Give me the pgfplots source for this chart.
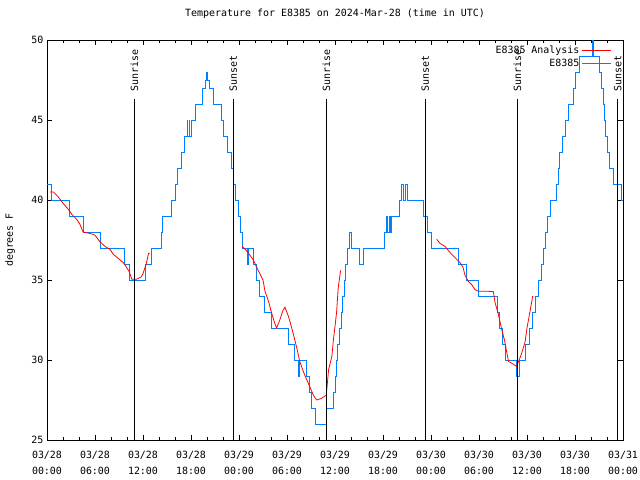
\documentclass[border=0pt]{standalone}
\usepackage{pgfplots}
\pgfplotsset{compat=1.18}
\usepackage{fontspec}
\setmainfont{DejaVu Sans Mono}
\definecolor{obsblue}{RGB}{0,128,255}

\begin{document}
\begin{tikzpicture}[font=\fontsize{10}{12}\selectfont]
\useasboundingbox (0,0) rectangle (640bp,480bp);
\begin{axis}[
    at={(47bp,40bp)}, anchor=south west,
    scale only axis, width=576bp, height=400bp,
    xmin=0, xmax=72, ymin=25, ymax=50,
    xtick={0,6,...,72},
    xticklabels={{03/28\\00:00},{03/28\\06:00},{03/28\\12:00},{03/28\\18:00},
                 {03/29\\00:00},{03/29\\06:00},{03/29\\12:00},{03/29\\18:00},
                 {03/30\\00:00},{03/30\\06:00},{03/30\\12:00},{03/30\\18:00},
                 {03/31\\00:00}},
    xticklabel style={align=center, font=\fontsize{10}{16}\selectfont, yshift=-8bp},
    minor x tick num=2,
    ytick={25,30,...,50},
    major tick length=5bp, minor tick length=3bp,
    tick style={black, line width=0.8bp},
    axis line style={line width=0.8bp},
    /pgf/number format/assume math mode=true,
    ylabel={degrees F},
    ylabel style={at={(axis description cs:-0.064,0.5)}, anchor=center},
    title={Temperature for E8385 on 2024-Mar-28 (time in UTC)},
    title style={at={(axis description cs:0.5,1)}, anchor=center, yshift=20bp},
    legend style={draw=none, fill=none, at={(axis description cs:0.98,0.992)},
        anchor=north east, inner sep=0pt, row sep=0.5bp,
        font=\fontsize{10}{11}\selectfont},
    legend cell align=right,
    legend plot pos=right,
    legend image code/.code={\draw[#1] (6bp,0bp) -- (35bp,0bp);},
    reverse legend,
    unbounded coords=jump,
    clip=false,
]

% observations (step data)
\addplot[color=obsblue, line width=0.8bp, const plot] coordinates {
(0,41) (0.6,40) (2.8,39) (4.5,38) (6.7,37) (9.7,36) (10.3,35) (12.3,36)
(13.0,37) (14.25,38) (14.45,39) (15.5,40) (16.0,41) (16.25,42) (16.8,43)
(17.2,44) (17.5,45) (17.6,44) (17.75,45) (17.85,44) (18.0,45) (18.5,46)
(19.45,47) (19.75,47.5) (19.95,48) (20.05,47.5) (20.25,47) (20.75,46) (21.8,45) (22.1,44) (22.6,43)
(23.1,42) (23.35,41) (23.6,40) (23.9,39) (24.15,38) (24.4,37) (25.0,36)
(25.2,37) (25.8,36) (26.2,35) (26.6,34) (27.2,33) (28.0,32) (30.2,31)
(30.9,30) (31.45,29) (31.6,30) (32.4,29) (32.8,28) (33.1,27) (33.6,26)
(34.95,27) (35.8,28) (36.0,29) (36.15,30) (36.35,31) (36.55,32) (36.75,33)
(36.95,34) (37.15,35) (37.35,36) (37.55,37) (37.75,38) (38.1,37) (39.05,36)
(39.6,37) (42.2,38) (42.45,39) (42.6,38) (42.75,39) (42.9,38) (43.0,39)
(44.05,40) (44.25,41) (44.5,40) (44.75,41) (45.0,40)
(47.1,39) (47.55,38) (48.1,37) (51.4,36) (52.4,35) (53.95,34) (56.3,33)
(56.55,32) (56.9,31) (57.35,30) (58.7,29) (59.05,30) (59.85,31) (60.25,32)
(60.65,33) (61.0,34) (61.4,35) (61.8,36) (62.05,37) (62.35,38) (62.6,39)
(62.9,40) (63.7,41) (63.9,42) (64.1,43) (64.4,44) (64.8,45) (65.2,46)
(65.8,47) (66.1,48) (66.6,49) (68.15,50) (68.35,49) (69.1,48) (69.3,47)
(69.5,46) (69.65,45) (69.85,44) (70.05,43) (70.3,42) (70.8,41) (71.75,40)
(72,40)
};
\addlegendentry{E8385}

% analysis
\addplot[color=red, line width=0.8bp] coordinates {
(0.4,40.5) (0.8,40.5) (1.4,40.2) (2.0,39.8) (2.7,39.4) (3.1,39.1) (3.7,38.8)
(4.1,38.5) (4.5,38.0) (5.0,37.95) (5.8,37.85) (6.0,37.8) (6.6,37.4) (7.25,37.1)
(7.9,36.9) (8.3,36.6) (8.9,36.35) (9.5,36.1) (9.8,35.9) (10.3,35.5) (10.6,35.05)
(11.2,35.05) (11.8,35.2) (12.0,35.4) (12.4,36.0) (12.7,36.67) (12.85,36.67)
(18,nan)
(24.4,37.1) (25.0,36.8) (25.8,36.25) (26.2,35.8) (26.6,35.4) (27.0,35.0)
(27.25,34.3) (27.7,33.65) (28.1,32.9) (28.4,32.4) (28.7,32.0) (29.1,32.5)
(29.5,33.1) (29.75,33.3) (30.2,32.7) (30.7,31.8) (31.2,30.8) (31.6,29.9)
(32.1,29.2) (32.7,28.5) (33.3,27.8) (33.7,27.5) (34.3,27.6) (34.9,27.8)
(35.0,28.3) (35.2,29.4) (35.6,30.2) (35.8,31.25) (36.0,32.1) (36.2,33.0)
(36.4,34.5) (36.7,35.6)
(42,nan)
(48.7,37.55) (49.1,37.3) (49.75,37.1) (50.4,36.7) (50.8,36.5) (51.2,36.3)
(51.6,36.1) (52.0,35.8) (52.25,35.3) (52.7,34.9) (53.1,34.7) (53.5,34.4)
(53.9,34.3) (55.0,34.3) (55.8,34.27) (56.0,33.6) (56.4,32.9) (56.8,32.0)
(57.2,31.2) (57.5,30.4) (57.7,29.9) (58.1,29.8) (58.7,29.6) (58.85,29.8)
(59.25,30.3) (59.75,31.1) (60.0,32.0) (60.4,33.1) (60.7,33.96) (60.8,33.96)
};
\addlegendentry{E8385 Analysis}

% sunrise / sunset markers
\addplot[black, line width=0.8bp, forget plot] coordinates {(10.92,25) (10.92,46.31)};
\addplot[black, line width=0.8bp, forget plot] coordinates {(23.29,25) (23.29,46.31)};
\addplot[black, line width=0.8bp, forget plot] coordinates {(34.92,25) (34.92,46.31)};
\addplot[black, line width=0.8bp, forget plot] coordinates {(47.29,25) (47.29,46.31)};
\addplot[black, line width=0.8bp, forget plot] coordinates {(58.79,25) (58.79,46.31)};
\addplot[black, line width=0.8bp, forget plot] coordinates {(71.33,25) (71.33,46.31)};

\node[rotate=90, anchor=west, inner sep=1bp] at (axis cs:10.92,46.7) {Sunrise};
\node[rotate=90, anchor=west, inner sep=1bp] at (axis cs:23.29,46.7) {Sunset};
\node[rotate=90, anchor=west, inner sep=1bp] at (axis cs:34.92,46.7) {Sunrise};
\node[rotate=90, anchor=west, inner sep=1bp] at (axis cs:47.29,46.7) {Sunset};
\node[rotate=90, anchor=west, inner sep=1bp] at (axis cs:58.79,46.7) {Sunrise};
\node[rotate=90, anchor=west, inner sep=1bp] at (axis cs:71.33,46.7) {Sunset};

\end{axis}
\end{tikzpicture}
\end{document}
